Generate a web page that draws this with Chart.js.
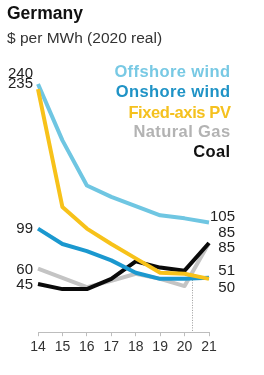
<!DOCTYPE html>
<html>
<head>
<meta charset="utf-8">
<script src="https://cdn.jsdelivr.net/npm/chart.js@4"></script>
<style>
  html, body { margin: 0; padding: 0; background: #fff; }
  #wrap { position: relative; width: 264px; height: 375px; overflow: hidden; }
  #title { position: absolute; left: 7px; top: 3px; font: bold 17.5px Arial, "Liberation Sans", sans-serif; color: #111; }
  #sub { position: absolute; left: 7px; top: 29px; font: 15.5px Arial, "Liberation Sans", sans-serif; color: #333; }
  canvas { position: absolute; left: 0; top: 0; }
</style>
</head>
<body>
<div id="wrap">
  <canvas id="lcoeChart" width="264" height="375"></canvas>
  <div id="title">Germany</div>
  <div id="sub">$ per MWh (2020 real)</div>
</div>
<script>
// years 2014..2021
const years = [14, 15, 16, 17, 18, 19, 20, 21];

const offshoreWind = [240, 185, 141, 130, 121, 112, 109, 105];
const onshoreWind  = [99, 84, 77, 68, 56, 50, 50, 51];
const fixedPV      = [235, 120, 99, 84, 70, 56, 55, 50];
const naturalGas   = [60, 51, 42, 48, 55, 50, 43, 85];
const coal         = [45, 40, 40, 50, 67, 61, 58, 85];

const seriesNames  = ["Offshore wind", "Onshore wind", "Fixed-axis PV", "Natural Gas", "Coal"];
const seriesColors = ["#6fc6e2", "#1b98cf", "#f7c21a", "#c4c4c4", "#0a0a0a"];
const legendColors = ["#78c9e4", "#1f93c6", "#f5c11f", "#b3b3b3", "#111111"];

// vertical dotted marker between 20 and 21
const markerYear = 20.3;
const markerTop = 49;

const pts = arr => arr.map((v, i) => ({ x: years[i], y: v }));

// end-label text offsets (px) relative to the line end they belong to
const leftLabels = [
  { series: 0, text: "240", dy: -10 },
  { series: 2, text: "235", dy: -5 },
  { series: 1, text: "99", dy: 0 },
  { series: 3, text: "60", dy: 1 },
  { series: 4, text: "45", dy: 1 }
];
const rightLabels = [
  { series: 0, text: "105", dy: -6 },
  { series: 4, text: "85", dy: -10 },
  { series: 3, text: "85", dy: 5 },
  { series: 1, text: "51", dy: -7 },
  { series: 2, text: "50", dy: 9 }
];
const seriesData = [offshoreWind, onshoreWind, fixedPV, naturalGas, coal];

const textPlugin = {
  id: "textPlugin",
  beforeDatasetsDraw(chart) {
    const { ctx, scales: { x, y } } = chart;
    ctx.save();
    ctx.strokeStyle = "#9a9a9a";
    ctx.lineWidth = 1;
    ctx.setLineDash([1, 1.5]);
    const mx = Math.round(x.getPixelForValue(markerYear)) + 0.5;
    ctx.beginPath();
    ctx.moveTo(mx, y.getPixelForValue(markerTop));
    ctx.lineTo(mx, y.getPixelForValue(0) + 2);
    ctx.stroke();
    ctx.restore();
  },
  afterDraw(chart) {
    const { ctx, chartArea, scales: { y } } = chart;
    ctx.save();
    ctx.font = "15px Arial, 'Liberation Sans', sans-serif";
    ctx.fillStyle = "#222";
    ctx.textBaseline = "middle";
    ctx.textAlign = "right";
    leftLabels.forEach(l => {
      const v = seriesData[l.series][0];
      ctx.fillText(l.text, chartArea.left - 5, y.getPixelForValue(v) + l.dy);
    });
    rightLabels.forEach(l => {
      const d = seriesData[l.series];
      ctx.fillText(l.text, 235, y.getPixelForValue(d[d.length - 1]) + l.dy);
    });
    // legend block
    ctx.font = "bold 16.5px Arial, 'Liberation Sans', sans-serif";
    const rows = [72, 92, 113, 132, 152];
    seriesNames.forEach((n, i) => {
      ctx.letterSpacing = i === 2 ? "-0.4px" : "0.4px";
      ctx.fillStyle = legendColors[i];
      ctx.fillText(n, 230.5, rows[i]);
    });
    ctx.restore();
  }
};

const order = [2, 0, 1, 4, 3]; // drawn on top first
new Chart(document.getElementById("lcoeChart"), {
  type: "line",
  data: {
    datasets: order.map(i => ({
      label: seriesNames[i],
      data: pts(seriesData[i]),
      borderColor: seriesColors[i],
      borderWidth: 4,
      pointRadius: 0,
      tension: 0,
      fill: false,
      clip: false,
      borderJoinStyle: "round"
    }))
  },
  options: {
    responsive: false,
    animation: false,
    devicePixelRatio: 1,
    layout: { padding: { left: 38, right: 55, top: 84, bottom: 16 } },
    plugins: { legend: { display: false }, tooltip: { enabled: false } },
    scales: {
      x: {
        type: "linear",
        min: 14,
        max: 21,
        grid: { drawOnChartArea: false, tickLength: 4, color: "#bdbdbd" },
        border: { color: "#bdbdbd" },
        ticks: {
          stepSize: 1,
          padding: 3,
          color: "#333",
          font: { family: "Arial, 'Liberation Sans', sans-serif", size: 14 },
          maxRotation: 0
        }
      },
      y: { display: false, min: -2, max: 240 }
    }
  },
  plugins: [textPlugin]
});
</script>
</body>
</html>
